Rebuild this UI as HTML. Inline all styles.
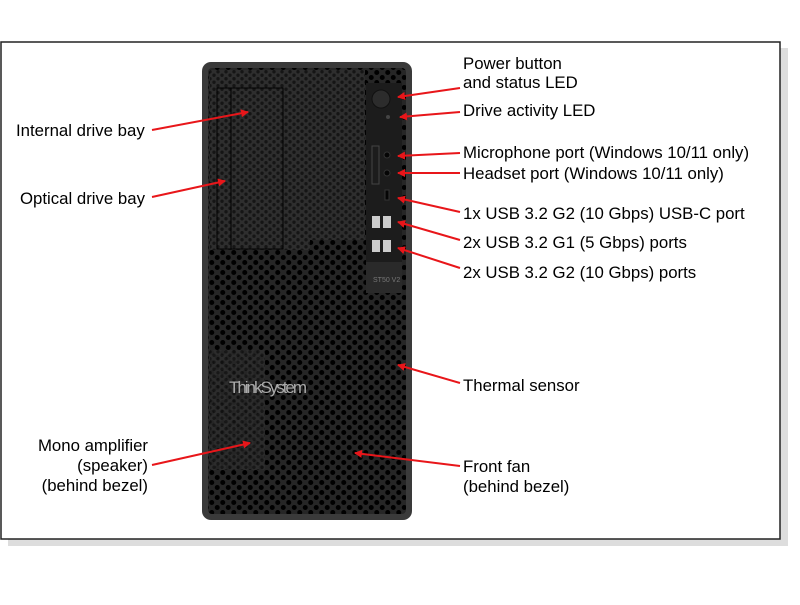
<!DOCTYPE html>
<html><head><style>
body{margin:0;background:#fff;width:800px;height:600px;overflow:hidden;font-family:"Liberation Sans",Arial,sans-serif}
</style></head><body>
<svg width="800" height="600" xmlns="http://www.w3.org/2000/svg">
<defs>
<pattern id="hex" width="11" height="10" patternUnits="userSpaceOnUse">
<rect width="11" height="10" fill="#262626"/>
<circle cx="2.75" cy="2.5" r="2.5" fill="#000"/>
<circle cx="8.25" cy="7.5" r="2.5" fill="#000"/>
</pattern>
<pattern id="hexs" width="8" height="7" patternUnits="userSpaceOnUse">
<rect width="8" height="7" fill="#2e2e2e"/>
<circle cx="2" cy="1.75" r="1.7" fill="#151515"/>
<circle cx="6" cy="5.25" r="1.7" fill="#151515"/>
</pattern>
<marker id="ah" markerWidth="8" markerHeight="8" refX="7" refY="4" orient="auto" markerUnits="userSpaceOnUse">
<path d="M0,0 L8,4 L0,8 z" fill="#e8161a"/>
</marker>
</defs>
<rect x="8" y="48" width="780" height="498" fill="#bbb" opacity="0.5"/>
<rect x="1" y="42" width="779" height="497" fill="#fff" stroke="#222" stroke-width="1.5"/>
<rect x="202" y="62" width="210" height="458" rx="9" fill="#3a3a3a"/>
<rect x="208" y="68" width="198" height="446" rx="4" fill="url(#hex)"/>
<rect x="210" y="70" width="100" height="180" fill="url(#hexs)"/>
<rect x="217" y="88" width="66" height="161" fill="none" stroke="#000"/>
<rect x="217" y="88" width="14" height="161" fill="none" stroke="#000"/>
<rect x="310" y="70" width="55" height="170" fill="url(#hexs)"/>
<rect x="366" y="83" width="36" height="210" fill="#1c1c1c"/>
<circle cx="381" cy="99" r="9" fill="#2c2c2c" stroke="#111"/>
<circle cx="388" cy="117" r="2" fill="#444"/>
<rect x="372" y="146" width="7" height="38" fill="none" stroke="#444"/>
<circle cx="387" cy="155" r="3" fill="#050505" stroke="#333"/>
<circle cx="387" cy="173" r="3" fill="#050505" stroke="#333"/>
<rect x="385" y="190" width="4" height="10" fill="#050505" stroke="#333"/>
<rect x="372" y="216" width="8" height="12" fill="#ccc"/><rect x="383" y="216" width="8" height="12" fill="#ccc"/>
<rect x="372" y="240" width="8" height="12" fill="#ccc"/><rect x="383" y="240" width="8" height="12" fill="#ccc"/>
<rect x="366" y="262" width="36" height="31" fill="#2a2a2a"/>
<text x="373" y="282" font-size="7" fill="#777">ST50 V2</text>
<rect x="210" y="350" width="55" height="120" fill="url(#hexs)" opacity="0.8"/>
<text x="229" y="393" font-size="17" fill="#aaa" font-family="Liberation Sans Narrow,Liberation Sans,sans-serif" textLength="78">ThinkSystem</text>
<g stroke="#e8161a" stroke-width="2" marker-end="url(#ah)">
<line x1="152" y1="130" x2="248" y2="112"/>
<line x1="152" y1="197" x2="225" y2="181"/>
<line x1="152" y1="465" x2="250" y2="443"/>
<line x1="460" y1="88" x2="398" y2="97"/>
<line x1="460" y1="112" x2="400" y2="117"/>
<line x1="460" y1="153" x2="398" y2="156"/>
<line x1="460" y1="173" x2="398" y2="173"/>
<line x1="460" y1="212" x2="398" y2="198"/>
<line x1="460" y1="240" x2="398" y2="222"/>
<line x1="460" y1="268" x2="398" y2="248"/>
<line x1="460" y1="383" x2="398" y2="365"/>
<line x1="460" y1="466" x2="355" y2="453"/>
</g>
<g font-size="16.8" fill="#000">
<text x="16" y="136">Internal drive bay</text>
<text x="20" y="204">Optical drive bay</text>
<text x="148" y="451" text-anchor="end">Mono amplifier</text>
<text x="148" y="471" text-anchor="end">(speaker)</text>
<text x="148" y="491" text-anchor="end">(behind bezel)</text>
<text x="463" y="69">Power button</text>
<text x="463" y="88">and status LED</text>
<text x="463" y="116">Drive activity LED</text>
<text x="463" y="158">Microphone port (Windows 10/11 only)</text>
<text x="463" y="179">Headset port (Windows 10/11 only)</text>
<text x="463" y="219">1x USB 3.2 G2 (10 Gbps) USB-C port</text>
<text x="463" y="248">2x USB 3.2 G1 (5 Gbps) ports</text>
<text x="463" y="278">2x USB 3.2 G2 (10 Gbps) ports</text>
<text x="463" y="391">Thermal sensor</text>
<text x="463" y="472">Front fan</text>
<text x="463" y="492">(behind bezel)</text>
</g>
</svg>
</body></html>
